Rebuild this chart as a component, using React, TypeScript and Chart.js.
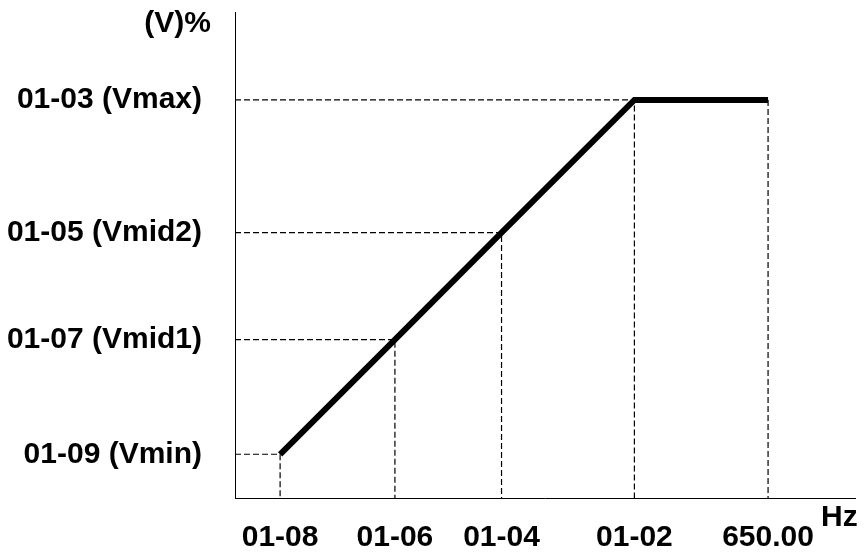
import React, { useEffect, useRef } from "react";
import { Chart, registerables } from "chart.js";

Chart.register(...registerables);

// Frequency positions (Hz-like units) and voltage (%) at the V/f curve points
const freqValues = [55, 195, 325, 487, 650];
const freqLabels = ["01-08", "01-06", "01-04", "01-02", "650.00"];
const voltValues = [9, 32.6, 54.6, 81.9, 81.9];
const voltTickValues = [9, 32.6, 54.6, 81.9];
const voltLabels = ["01-09 (Vmin)", "01-07 (Vmid1)", "01-05 (Vmid2)", "01-03 (Vmax)"];

const X_MAX = 756;
const Y_MAX = 100;
const FONT = "'Liberation Sans', Arial, sans-serif";

export default function App() {
  const ref = useRef<HTMLCanvasElement | null>(null);

  useEffect(() => {
    if (!ref.current) return;

    const curve = freqValues.map((x, i) => ({ x, y: voltValues[i] }));

    const guideSets: any[] = freqValues.map((x, i) => {
      const y = voltValues[i];
      const pts = i === freqValues.length - 1
        ? [{ x, y }, { x, y: 0 }]
        : [{ x: 0, y }, { x, y }, { x, y: 0 }];
      return {
        data: pts,
        borderColor: "#000",
        borderWidth: 1.2,
        borderDash: [6, 3],
        pointRadius: 0,
        fill: false,
        tension: 0,
      };
    });

    const titles = {
      id: "axisTitles",
      afterDraw(chart: any) {
        const { ctx, chartArea } = chart;
        ctx.save();
        ctx.fillStyle = "#000";
        ctx.font = `bold 30px ${FONT}`;
        ctx.textBaseline = "middle";
        ctx.textAlign = "right";
        ctx.fillText("(V)%", chartArea.left - 24, 24);
        ctx.textAlign = "left";
        ctx.fillText("Hz", chartArea.right - 34, chartArea.bottom + 20);
        ctx.restore();
      },
    };

    const chart = new Chart(ref.current, {
      type: "line",
      data: {
        datasets: [
          ...guideSets,
          {
            data: curve,
            borderColor: "#000",
            borderWidth: 6,
            pointRadius: 0,
            fill: false,
            tension: 0,
            borderCapStyle: "butt",
            borderJoinStyle: "miter",
          },
        ],
      },
      options: {
        animation: false,
        responsive: true,
        maintainAspectRatio: false,
        layout: { padding: { top: 12, right: 11, left: 0, bottom: 0 } },
        plugins: { legend: { display: false }, tooltip: { enabled: false } },
        scales: {
          x: {
            type: "linear",
            min: 0,
            max: X_MAX,
            grid: { display: false, drawTicks: false },
            border: { display: true, color: "#000", width: 1 },
            afterBuildTicks: (s: any) => {
              s.ticks = freqValues.map((v) => ({ value: v }));
            },
            afterFit: (s: any) => {
              s.height = 60;
              s.paddingLeft = 0;
              s.paddingRight = 0;
            },
            ticks: {
              autoSkip: false,
              maxRotation: 0,
              padding: 22,
              color: "#000",
              font: { family: FONT, size: 30, weight: "bold" },
              callback: (v: any) => {
                const i = freqValues.indexOf(Number(v));
                return i >= 0 ? freqLabels[i] : "";
              },
            },
          },
          y: {
            type: "linear",
            min: 0,
            max: Y_MAX,
            grid: { display: false, drawTicks: false },
            border: { display: true, color: "#000", width: 1 },
            afterBuildTicks: (s: any) => {
              s.ticks = voltTickValues.map((v) => ({ value: v }));
            },
            afterFit: (s: any) => {
              s.width = 235;
              s.paddingTop = 0;
              s.paddingBottom = 0;
            },
            ticks: {
              autoSkip: false,
              padding: 33,
              color: "#000",
              font: { family: FONT, size: 30, weight: "bold" },
              callback: (v: any) => {
                const i = voltTickValues.indexOf(Number(v));
                return i >= 0 ? voltLabels[i] : "";
              },
            },
          },
        },
      },
      plugins: [titles],
    });

    return () => chart.destroy();
  }, []);

  return (
    <div style={{ position: "absolute", left: 0, top: 0, width: 866, height: 558, background: "#fff" }}>
      <canvas ref={ref} />
    </div>
  );
}
